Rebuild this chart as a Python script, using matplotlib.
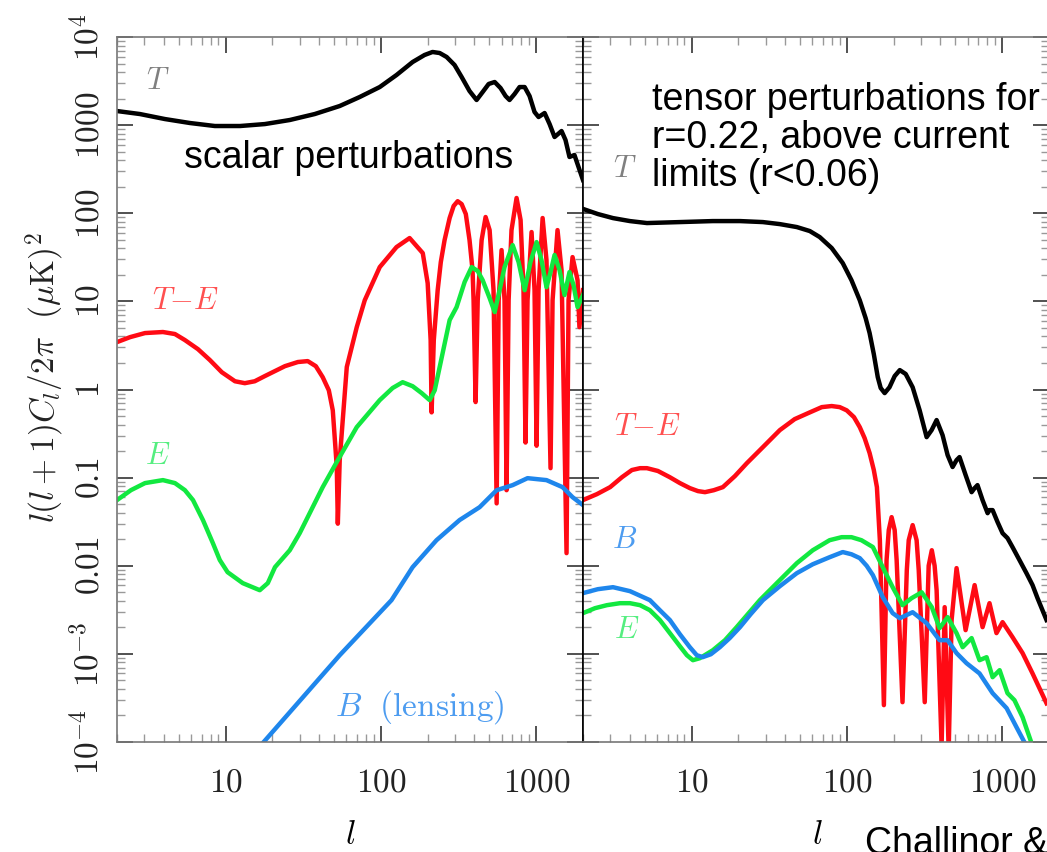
import matplotlib.pyplot as plt
import matplotlib.ticker as mticker

plt.rcParams['mathtext.fontset'] = 'cm'
plt.rcParams['font.family'] = 'DejaVu Serif'

# ---- scalar perturbations (left panel) ----
ell_T_s = [2, 2.81, 4.07, 5.89, 8.53, 12.4, 17.9, 25.9, 37.5, 54.3, 73.0, 98.3, 126, 160, 191,
           215, 239, 265, 298, 331, 372, 413, 452, 494, 540, 589, 635, 673, 725, 781, 842, 906,
           975, 1035, 1132, 1219, 1312, 1455, 1543, 1637, 1762, 1901, 2000]
cl_T_s = [1445, 1336, 1172, 1057, 977, 977, 1028, 1143, 1336, 1648, 2084, 2705, 3703, 5200, 6250,
          6760, 6580, 5930, 4810, 3515, 2438, 1928, 2377, 2931, 3085, 2636, 2137, 1928, 2253, 2705,
          2705, 2137, 1409, 1236, 1372, 1028, 733, 857, 678, 435, 458, 309, 238]

ell_TE_s = [2.0, 2.43, 3.03, 3.95, 4.72, 5.47, 6.64, 7.92, 9.46, 11.5, 13.3, 15.4, 17.9, 24.1,
            29.2, 33.8, 38.1, 42.2, 46.2, 49.0, 52.0, 52.8, 54.3, 56.8, 60.3, 69.9, 78.7, 98.3,
            126, 153, 186, 200, 209, 212, 219, 232, 243, 257, 277, 294, 312, 331, 352, 372, 389,
            395, 407, 420, 445, 472, 501, 531, 556, 573, 598, 625, 644, 664, 693, 747, 793, 828,
            853, 879, 933, 975, 1005, 1035, 1099, 1164, 1236, 1274, 1371, 1455, 1567, 1614,
            1713, 1845, 1897, 2000]
cl_TE_s = [3.45, 3.93, 4.37, 4.49, 4.26, 3.64, 2.87, 2.16, 1.57, 1.24, 1.18, 1.24, 1.42, 1.84,
           2.05, 2.10, 1.84, 1.38, 0.98, 0.58, 0.132, 0.030, 0.158, 0.45, 1.80, 5.1, 10.3, 24.5,
           41.3, 52.3, 35.3, 16.1, 3.64, 0.55, 3.64, 13.4, 27.9, 49.6, 88.3, 121, 137, 127, 98,
           49.6, 22.6, 10.3, 0.72, 10.3, 49.6, 90.6, 64.4, 13.4, 0.051, 10.3, 38.2, 10.3, 0.072,
           10.3, 64.4, 149, 83.7, 13.4, 0.25, 10.3, 61.2, 13.4, 0.23, 13.4, 88.3, 29.4, 0.128,
           10.3, 64.4, 22.6, 0.0139, 10.3, 31.8, 17.4, 5.1, 13.4]

ell_E_s = [2.0, 2.46, 3.03, 3.95, 4.72, 5.47, 6.17, 7.15, 8.28, 9.18, 10.3, 12.9, 16.6, 18.7,
           20.8, 25.9, 30.0, 42.2, 52.8, 69.9, 98.3, 119, 138, 160, 183, 206, 222, 239, 277, 307,
           346, 384, 420, 452, 501, 540, 581, 625, 705, 770, 842, 918, 1005, 1081, 1164, 1236,
           1312, 1413, 1521, 1637, 1738, 1845, 2000]
cl_E_s = [0.0556, 0.0721, 0.0867, 0.0937, 0.0867, 0.0721, 0.0556, 0.033, 0.0181, 0.0116,
          0.00846, 0.00635, 0.00528, 0.00635, 0.00964, 0.0150, 0.0234, 0.078, 0.158, 0.374,
          0.758, 1.04, 1.21, 1.09, 0.91, 0.758, 0.98, 1.80, 6.13, 8.6, 16.6, 24.5, 22.1, 17.4,
          10.9, 7.56, 13.4, 24.5, 43.5, 27.9, 13.4, 27.9, 47.1, 29.4, 14.5, 21.5, 33.6, 22.6,
          11.8, 21.5, 15.3, 8.6, 11.8]

ell_B_s = [17.6, 54.3, 117, 160, 228, 321, 432, 556, 705, 879, 1164, 1476, 1713, 2000]
cl_B_s = [1.0e-4, 9.66e-4, 0.00407, 0.00964, 0.0195, 0.033, 0.0462, 0.072, 0.0822, 0.0986,
          0.0937, 0.078, 0.060, 0.0488]

# ---- tensor perturbations, r=0.22 (right panel) ----
ell_T_t = [2.0, 2.49, 3.12, 4.01, 5.16, 8.41, 13.7, 20.5, 28.8, 37.0, 47.6, 57.7, 66.8, 79.8,
           94.0, 107, 121, 132, 140, 149, 158, 165, 175, 188, 203, 219, 239, 265, 294, 326, 351,
           378, 413, 445, 479, 508, 531, 581, 635, 664, 693, 747, 805, 828, 867, 933, 1005, 1081,
           1164, 1291, 1432, 1567, 1687, 1928]
cl_T_t = [112, 98, 88.1, 81.5, 77.4, 79.4, 81.5, 81.5, 79.4, 75.3, 69.7, 62.8, 53.7, 40.3, 27.2,
          17.4, 10.3, 6.46, 4.37, 2.52, 1.38, 1.04, 0.91, 1.06, 1.42, 1.66, 1.50, 1.06, 0.58,
          0.288, 0.346, 0.45, 0.303, 0.18, 0.132, 0.158, 0.171, 0.107, 0.0684, 0.076, 0.0822,
          0.0556, 0.0395, 0.0428, 0.0428, 0.0313, 0.0234, 0.0206, 0.0163, 0.0116, 0.00824,
          0.00603, 0.00429, 0.00242]

ell_TE_t = [2.0, 2.46, 2.99, 3.56, 4.13, 4.66, 5.16, 6.07, 7.25, 8.41, 9.75, 11.0, 12.2, 13.9,
            15.9, 19.0, 22.7, 28.8, 37.0, 46.1, 57.7, 68.9, 79.8, 89.9, 99.7, 111, 121, 130, 140,
            149, 156, 163, 173, 180, 186, 194, 203, 209, 228, 243, 250, 265, 281, 290, 317, 331,
            336, 352, 367, 378, 407, 426, 452, 472, 508, 581, 664, 747, 828, 918, 1005, 1164, 1352,
            1567, 1928]
cl_TE_t = [0.0556, 0.065, 0.078, 0.101, 0.122, 0.128, 0.128, 0.119, 0.101, 0.0867, 0.076, 0.0703,
           0.0684, 0.072, 0.078, 0.104, 0.146, 0.222, 0.346, 0.461, 0.55, 0.631, 0.649, 0.631,
           0.58, 0.486, 0.374, 0.281, 0.19, 0.122, 0.078, 0.0195, 0.000262, 0.0116, 0.0254,
           0.0356, 0.0254, 0.0116, 0.000283, 0.0089, 0.0195, 0.0289, 0.0195, 0.0089, 0.000283,
           0.00407, 0.0100, 0.0150, 0.0100, 0.00528, 0.00009, 0.00339, 0.00008, 0.00242, 0.0094,
           0.00186, 0.00603, 0.00201, 0.00376, 0.00172, 0.00229, 0.00155, 0.00102, 0.00060,
           0.000275]

ell_E_t = [2.0, 2.39, 2.85, 3.46, 4.01, 4.66, 5.39, 6.25, 7.25, 8.41, 9.33, 10.2, 11.3, 13.7,
           16.4, 19.5, 23.0, 27.5, 37.0, 47.6, 60.3, 77.4, 92.5, 107, 124, 147, 170, 197, 228,
           261, 303, 352, 395, 445, 508, 556, 635, 714, 793, 867, 962, 1081, 1199, 1352, 1567]
cl_E_t = [0.0029, 0.0033, 0.00357, 0.00376, 0.00376, 0.00357, 0.00313, 0.00242, 0.00172,
          0.00122, 0.000966, 0.000848, 0.000893, 0.0011, 0.00143, 0.00201, 0.00282, 0.00407,
          0.00687, 0.0107, 0.0150, 0.0195, 0.0211, 0.0211, 0.0195, 0.0163, 0.00964, 0.00571,
          0.00357, 0.00429, 0.0050, 0.00339, 0.00196, 0.00261, 0.00172, 0.00119, 0.00151,
          0.000848, 0.000917, 0.000544, 0.000653, 0.000358, 0.000298, 0.000191, 0.00009]

ell_B_t = [2.0, 2.49, 3.12, 4.01, 5.39, 6.25, 7.25, 8.41, 9.75, 10.8, 11.8, 13.3, 15.2, 17.6,
           20.5, 24.0, 28.8, 37.0, 47.6, 60.3, 77.4, 94.0, 107, 121, 134, 147, 170, 197, 219,
           265, 326, 395, 445, 508, 589, 714, 867, 1067, 1236, 1432]
cl_B_t = [0.00489, 0.00542, 0.00571, 0.00515, 0.00407, 0.00313, 0.00242, 0.00167, 0.00119,
          0.000966, 0.000918, 0.00099, 0.00119, 0.00151, 0.00201, 0.00282, 0.00407, 0.00586,
          0.00824, 0.0104, 0.0125, 0.0143, 0.0135, 0.0122, 0.0100, 0.00782, 0.00441, 0.0029,
          0.00254, 0.00297, 0.00223, 0.00143, 0.00143, 0.00102, 0.000784, 0.00060, 0.000358,
          0.000242, 0.000147, 0.00009]

ytick_vals = [1e-4, 1e-3, 1e-2, 1e-1, 1, 10, 100, 1000, 1e4]
ytick_labels = ['$10^{-4}$', '$10^{-3}$', '$0.01$', '$0.1$', '$1$', '$10$', '$100$', '$1000$', '$10^4$']
xtick_vals = [10, 100, 1000]
xtick_labels = ['$10$', '$100$', '$1000$']

c_T, c_TE, c_E, c_B = 'black', '#ff0a14', '#12e840', '#1e86ec'
lw = 3.2

fig = plt.figure(figsize=(10.47, 8.52), dpi=100)
ax1 = fig.add_axes([117/1047, 110/852, 466/1047, 705/852])
ax2 = fig.add_axes([583/1047, 110/852, 466/1047, 705/852])

for ax in (ax1, ax2):
    ax.set_xscale('log')
    ax.set_yscale('log')
    ax.set_xlim(2, 2000)
    ax.set_ylim(1e-4, 1e4)
    ax.set_yticks(ytick_vals)
    ax.yaxis.set_minor_locator(mticker.LogLocator(base=10, subs=range(2, 10), numticks=20))
    ax.xaxis.set_minor_locator(mticker.LogLocator(base=10, subs=range(2, 10), numticks=20))
    ax.yaxis.set_minor_formatter(mticker.NullFormatter())
    ax.xaxis.set_minor_formatter(mticker.NullFormatter())
    ax.set_xticks(xtick_vals)
    ax.set_xticklabels(xtick_labels)
    ax.tick_params(which='both', direction='in', top=True, right=True)
    ax.tick_params(which='major', length=11.5, width=1.1, color='#222222', labelsize=24,
                   labelcolor='#222222')
    ax.tick_params(which='minor', length=6, width=1, color='#999999')
    ax.tick_params(axis='x', pad=18)
    for s in ax.spines.values():
        s.set_color('#777777')
        s.set_linewidth(1.2)

ax1.set_yticklabels(ytick_labels, rotation=90, va='center')
ax1.tick_params(axis='y', pad=8)
ax2.set_yticklabels([])
ax1.spines['right'].set_color('black')
ax2.spines['left'].set_color('black')

# left panel curves
ax1.plot(ell_TE_s, cl_TE_s, color=c_TE, lw=lw)
ax1.plot(ell_E_s, cl_E_s, color=c_E, lw=lw)
ax1.plot(ell_B_s, cl_B_s, color=c_B, lw=lw)
ax1.plot(ell_T_s, cl_T_s, color=c_T, lw=lw)

# right panel curves
ax2.plot(ell_TE_t, cl_TE_t, color=c_TE, lw=lw)
ax2.plot(ell_E_t, cl_E_t, color=c_E, lw=lw)
ax2.plot(ell_B_t, cl_B_t, color=c_B, lw=lw)
ax2.plot(ell_T_t, cl_T_t, color=c_T, lw=lw)

# curve labels
lab = dict(fontsize=22, ha='center', va='center')
ax1.text(0.088, 0.939, '$T$', color='#808080', transform=ax1.transAxes, **lab)
ax1.text(0.146, 0.626, '$T{-}E$', color='#ff5050', transform=ax1.transAxes, **lab)
ax1.text(0.088, 0.407, '$E$', color='#55ee80', transform=ax1.transAxes, **lab)
ax1.text(0.650, 0.050, r'$B\ \ \mathrm{(lensing)}$', color='#4d9cf0', fontsize=24,
         ha='center', va='center', transform=ax1.transAxes)
ax2.text(0.090, 0.814, '$T$', color='#808080', transform=ax2.transAxes, **lab)
ax2.text(0.139, 0.447, '$T{-}E$', color='#ff5050', transform=ax2.transAxes, **lab)
ax2.text(0.090, 0.287, '$B$', color='#4d9cf0', transform=ax2.transAxes, **lab)
ax2.text(0.094, 0.159, '$E$', color='#55ee80', transform=ax2.transAxes, **lab)

ax1.text(0.498, 0.828, 'scalar perturbations', family='Liberation Sans', fontsize=27,
         ha='center', va='center', transform=ax1.transAxes)
ax2.text(0.148, 0.857, 'tensor perturbations for\nr=0.22, above current\nlimits (r<0.06)',
         family='Liberation Sans', fontsize=27, ha='left', va='center', linespacing=1.08,
         transform=ax2.transAxes)

# axis labels
ax1.text(0.5, -0.132, '$l$', fontsize=24, ha='center', va='center', transform=ax1.transAxes)
ax2.text(0.504, -0.132, '$l$', fontsize=24, ha='center', va='center', transform=ax2.transAxes)
fig.text(45/1047, 1 - 378/852, r'$l(l+1)C_l/2\pi\ \ (\mu\mathrm{K})^2$', fontsize=24,
         color='#222222', rotation=90, ha='center', va='center')
fig.text(865/1047, 1 - 826/852, 'Challinor & Peiris', family='Liberation Sans', fontsize=27,
         ha='left', va='top')

fig.savefig('out.png', dpi=100)
